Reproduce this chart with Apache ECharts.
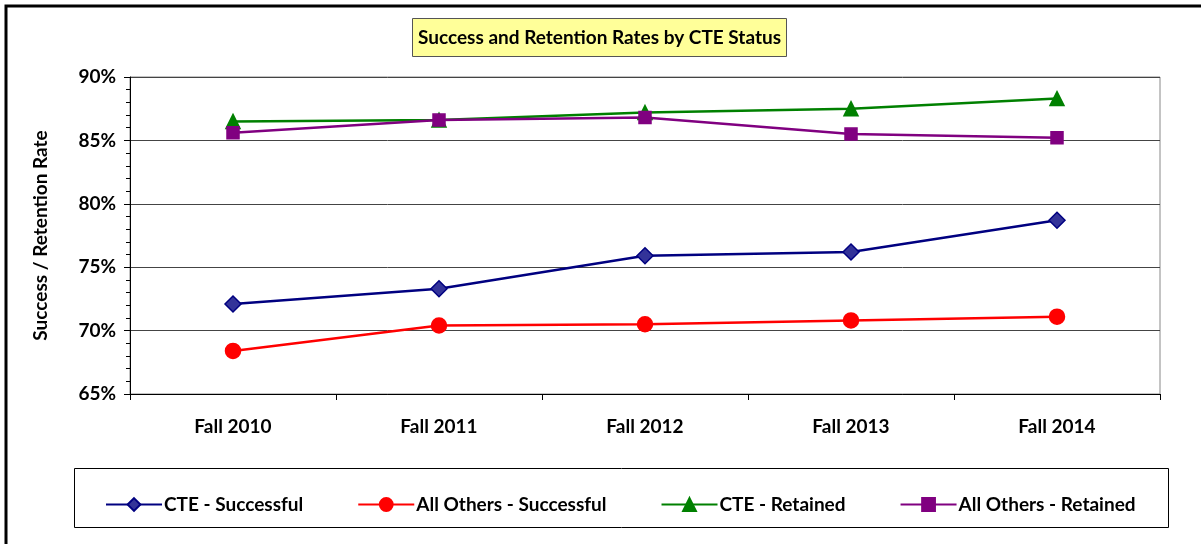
<!DOCTYPE html>
<html>
<head>
<meta charset="utf-8">
<script src="https://cdn.jsdelivr.net/npm/echarts@6/dist/echarts.min.js"></script>
<style>
  html, body { margin: 0; padding: 0; background: #fff; }
  #chart { width: 1201px; height: 544px; }
</style>
</head>
<body>
<div id="chart"></div>
<script>
const categories = ["Fall 2010", "Fall 2011", "Fall 2012", "Fall 2013", "Fall 2014"];
const cteSuccessful = [72.1, 73.3, 75.9, 76.2, 78.7];
const othersSuccessful = [68.4, 70.4, 70.5, 70.8, 71.1];
const cteRetained = [86.5, 86.6, 87.2, 87.5, 88.3];
const othersRetained = [85.6, 86.6, 86.8, 85.5, 85.2];

const font = "Lato";

const chart = echarts.init(document.getElementById("chart"));

const lineSeries = (name, data, color, fill, symbol, size) => {
  return {
    name: name,
    type: "line",
    data: data,
    symbol: symbol,
    symbolSize: size,
    lineStyle: { color: color, width: 2.5 },
    itemStyle: { color: fill, borderColor: color, borderWidth: 1.5 },
    emphasis: { disabled: true },
  };
};

const option = {
  animation: false,
  backgroundColor: "#fff",
  textStyle: { fontFamily: font },
  title: {
    text: "Success and Retention Rates by CTE Status",
    left: 412,
    top: 18,
    backgroundColor: "#FFFF99",
    borderColor: "#555",
    borderWidth: 1,
    padding: [10, 6, 10, 6],
    textStyle: { fontFamily: font, fontSize: 19, fontWeight: "bold", color: "#000" },
  },
  graphic: [
    {
      type: "polyline",
      shape: { points: [[6, 544], [6, 6], [1201, 6]] },
      style: { stroke: "#000", lineWidth: 3, fill: null },
      silent: true,
    },
    {
      type: "rect",
      shape: { x: 74.5, y: 468.5, width: 1094, height: 59 },
      style: { stroke: "#000", lineWidth: 1, fill: null },
      silent: true,
    },
  ],
  legend: {
    left: 100,
    top: 490,
    itemWidth: 56,
    itemHeight: 16,
    itemGap: 54,
    textStyle: { fontFamily: font, fontSize: 19, fontWeight: "bold", color: "#000", padding: [0, 0, 0, -3] },
    data: ["CTE - Successful", "All Others - Successful", "CTE - Retained", "All Others - Retained"],
  },
  grid: {
    left: 130,
    top: 77,
    right: 41,
    bottom: 150,
    show: true,
    borderColor: "#888",
    borderWidth: 1,
  },
  xAxis: {
    type: "category",
    data: categories,
    boundaryGap: true,
    axisLine: { lineStyle: { color: "#000", width: 1 } },
    axisTick: { show: true, length: 6, lineStyle: { color: "#000" } },
    axisLabel: { margin: 23, fontFamily: font, fontSize: 19, fontWeight: "bold", color: "#000" },
  },
  yAxis: {
    type: "value",
    min: 65,
    max: 90,
    interval: 5,
    name: "Success / Retention Rate",
    nameLocation: "middle",
    nameGap: 80,
    nameTextStyle: { fontFamily: font, fontSize: 19, fontWeight: "bold", color: "#000" },
    axisLine: { show: true, lineStyle: { color: "#000", width: 1 } },
    axisTick: { show: true, length: 6, lineStyle: { color: "#000" } },
    minorTick: { show: true, splitNumber: 5, length: 4, lineStyle: { color: "#000" } },
    axisLabel: { formatter: "{value}%", margin: 14, fontFamily: font, fontSize: 19, fontWeight: "bold", color: "#000" },
    splitLine: { show: true, lineStyle: { color: "#444", width: 1 } },
  },
  series: [
    lineSeries("CTE - Successful", cteSuccessful, "#000080", "#333399", "diamond", 16),
    lineSeries("All Others - Successful", othersSuccessful, "#FF0000", "#FF0000", "circle", 15),
    lineSeries("CTE - Retained", cteRetained, "#008000", "#008000", "triangle", 14),
    lineSeries("All Others - Retained", othersRetained, "#800080", "#800080", "rect", 12),
  ],
};

chart.setOption(option);
</script>
</body>
</html>
